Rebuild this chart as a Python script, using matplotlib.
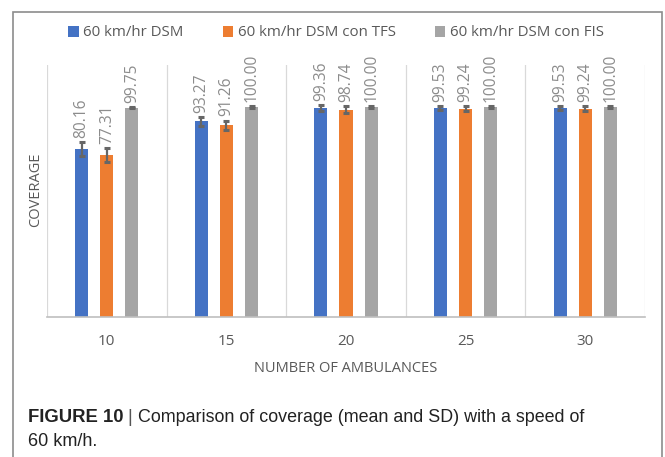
import matplotlib
matplotlib.use("Agg")
import matplotlib.pyplot as plt
import numpy as np
from matplotlib.patches import Rectangle

categories = ["10", "15", "20", "25", "30"]
series_names = ["60 km/hr DSM", "60 km/hr DSM con TFS", "60 km/hr DSM con FIS"]
dsm = [80.16, 93.27, 99.36, 99.53, 99.53]
tfs = [77.31, 91.26, 98.74, 99.24, 99.24]
fis = [99.75, 100.00, 100.00, 100.00, 100.00]
dsm_sd = [3.3, 2.1, 1.5, 1.0, 1.0]
tfs_sd = [3.3, 2.3, 1.6, 1.2, 1.2]
fis_sd = [0.4, 0.3, 0.3, 0.3, 0.3]
labels_dsm = ["80.16", "93.27", "99.36", "99.53", "99.53"]
labels_tfs = ["77.31", "91.26", "98.74", "99.24", "99.24"]
labels_fis = ["99.75", "100.00", "100.00", "100.00", "100.00"]

colors = ["#4472C4", "#ED7D31", "#A5A5A5"]
txt_gray = "#595959"
font = ["Open Sans", "DejaVu Sans"]
cap_font = ["Liberation Sans", "DejaVu Sans"]

fig = plt.figure(figsize=(6.65, 4.57), dpi=100)
# outer frame
fig.patches.append(Rectangle((13/665, -0.05), (662-13)/665, (457-12)/457 + 0.05,
                             transform=fig.transFigure, fill=False,
                             edgecolor="#8c8c8c", linewidth=1.2))

ax = fig.add_axes([47/665, (457-317)/457, (645-47)/665, (317-65)/457])
x = np.arange(len(categories))
w = 0.11
off = 0.21
vals = [dsm, tfs, fis]
sds = [dsm_sd, tfs_sd, fis_sd]
labs = [labels_dsm, labels_tfs, labels_fis]
for i in range(3):
    xs = x + (i - 1) * off
    ax.bar(xs, vals[i], width=w, color=colors[i], label=series_names[i], zorder=2)
    ax.errorbar(xs, vals[i], yerr=sds[i], fmt="none", ecolor="#666666",
                elinewidth=1.6, capsize=2.5, capthick=2.2, zorder=3)
    for xx, v, s, t in zip(xs, vals[i], sds[i], labs[i]):
        ax.annotate(t, (xx, v + s), xytext=(0, 3), textcoords="offset points",
                    rotation=90, ha="center", va="bottom", fontsize=11.2,
                    color="#8c8c8c", family=font)

ax.set_xlim(-0.5, len(categories) - 0.5)
ax.set_ylim(0, 120)
ax.set_yticks([])
ax.set_xticks(x)
ax.set_xticklabels(categories, fontsize=11, color=txt_gray, family=font)
ax.tick_params(axis="x", length=0, pad=12)
for b in np.arange(-0.5, len(categories), 1.0):
    ax.axvline(b, color="#d9d9d9", linewidth=0.9, zorder=0)
for s in ["top", "left", "right"]:
    ax.spines[s].set_visible(False)
ax.spines["bottom"].set_color("#bfbfbf")
ax.spines["bottom"].set_linewidth(1.2)
ax.set_xlabel("NUMBER OF AMBULANCES", fontsize=10.5, color=txt_gray, family=font, labelpad=9)
fig.text(36/665, (457-190)/457, "COVERAGE", rotation=90, ha="center", va="center",
         fontsize=10.5, color=txt_gray, family=font)

leg = fig.legend(loc="center", bbox_to_anchor=(336/665, (457-33)/457), ncol=3,
                 frameon=False, handlelength=0.7, handleheight=0.7,
                 handletextpad=0.3, columnspacing=2.6,
                 prop={"family": font, "size": 10.8})
for t in leg.get_texts():
    t.set_color(txt_gray)

renderer = fig.canvas.get_renderer()

def fit_text(x0, x1, y, s, **kw):
    t = fig.text(x0/665, (457-y)/457, s, fontsize=12, va="center", ha="left", **kw)
    wpx = t.get_window_extent(renderer).width
    t.set_fontsize(12 * (x1 - x0) / wpx)
    return t

fit_text(28, 123, 418, "FIGURE 10", fontweight="bold", color="#222222", family=cap_font)
fig.text(127/665, (457-418)/457, "|", fontsize=13, color="#555555", family=cap_font,
         va="center", ha="left")
fit_text(138, 587, 418, "Comparison of coverage (mean and SD) with a speed of",
         color="#222222", family=cap_font)
fit_text(28, 97, 441, "60 km/h.", color="#222222", family=cap_font)

fig.savefig("out.png", dpi=100)
